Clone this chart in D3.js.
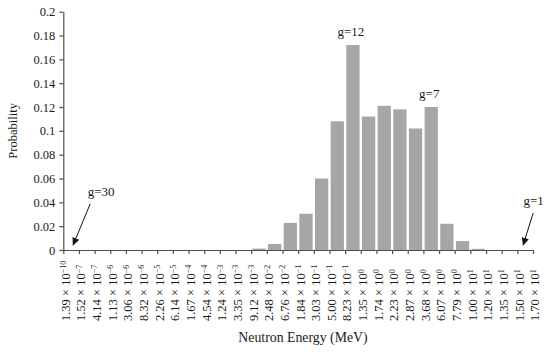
<!DOCTYPE html>
<html>
<head>
<meta charset="utf-8">
<script src="https://cdn.jsdelivr.net/npm/d3@7"></script>
<style>
  body { margin: 0; background: #fff; }
  svg text { font-family: "Liberation Serif", "Times New Roman", serif; fill: #1a1a1a; }
  .axis path, .axis line { stroke: #4d4d4d; stroke-width: 1.2px; }
</style>
</head>
<body>
<svg id="chart"></svg>
<script>
// bin edge labels (31 edges, 30 energy groups), written as mantissa x 10^exponent
const edgeMantissa = ["1.39", "1.52", "4.14", "1.13", "3.06", "8.32", "2.26", "6.14", "1.67", "4.54",
    "1.24", "3.35", "9.12", "2.48", "6.76", "1.84", "3.03", "5.00", "8.23", "1.35",
    "1.74", "2.23", "2.87", "3.68", "6.07", "7.79", "1.00", "1.20", "1.35", "1.50", "1.70"];
const edgeExponent = [-10, -7, -7, -6, -6, -6, -5, -5, -4, -4,
    -3, -3, -3, -2, -2, -1, -1, -1, -1, 0,
    0, 0, 0, 0, 0, 0, 1, 1, 1, 1, 1];

// group number g counts down from 30 (lowest energy) to 1 (highest)
const groups = d3.range(30, 0, -1);
const probability = [0, 0, 0, 0, 0, 0, 0, 0, 0, 0,
    0, 0, 0.0012, 0.005, 0.0228, 0.0304, 0.060, 0.108, 0.172, 0.112,
    0.121, 0.118, 0.102, 0.120, 0.022, 0.0075, 0.001, 0, 0, 0];

const yTicks = [0, 0.02, 0.04, 0.06, 0.08, 0.1, 0.12, 0.14, 0.16, 0.18, 0.2];

// labelled groups: peaks get text above the bar, the two ends get an arrow
const peakLabels = [12, 7];
const arrowLabels = [30, 1];

const width = 550, height = 352;
const margin = { top: 11.7, right: 17, bottom: 102, left: 63.3 };
const innerW = width - margin.left - margin.right;
const innerH = height - margin.top - margin.bottom;

const svg = d3.select("#chart")
    .attr("width", width)
    .attr("height", height);

svg.append("defs").append("marker")
    .attr("id", "arrowhead")
    .attr("viewBox", "0 0 10 10")
    .attr("refX", 9)
    .attr("refY", 5)
    .attr("markerWidth", 8)
    .attr("markerHeight", 8)
    .attr("orient", "auto")
    .append("path")
    .attr("d", "M0,0.5 L10,5 L0,9.5 z")
    .attr("fill", "#111");

const chart = svg.append("g")
    .attr("transform", `translate(${margin.left},${margin.top})`);

// x: edge index -> pixel; bars sit between consecutive edges
const xScale = d3.scaleLinear().domain([0, edgeMantissa.length - 1]).range([0, innerW]);
const yScale = d3.scaleLinear().domain([0, 0.2]).range([innerH, 0]);

const barGap = 2.4;
chart.selectAll(".bar")
    .data(probability)
    .join("rect")
    .attr("class", "bar")
    .attr("x", (d, i) => xScale(i) + barGap / 2)
    .attr("width", (d, i) => xScale(i + 1) - xScale(i) - barGap)
    .attr("y", d => yScale(d))
    .attr("height", d => innerH - yScale(d))
    .attr("fill", "#a6a6a6");

// Y axis
const yAxis = d3.axisLeft(yScale)
    .tickValues(yTicks)
    .tickSize(4)
    .tickSizeOuter(0)
    .tickFormat(d => String(+d.toFixed(2)));

const yAxisG = chart.append("g")
    .attr("class", "axis y-axis")
    .call(yAxis);
yAxisG.selectAll("text")
    .attr("x", -8)
    .attr("font-size", "12.5px")
    .style("font-family", null);

// X axis with rotated labels at every edge
const xAxis = d3.axisBottom(xScale)
    .tickValues(d3.range(edgeMantissa.length))
    .tickSize(4)
    .tickSizeOuter(0)
    .tickFormat("");

const xAxisG = chart.append("g")
    .attr("class", "axis x-axis")
    .attr("transform", `translate(0,${innerH})`)
    .call(xAxis);

xAxisG.selectAll(".tick").each(function(i) {
    const t = d3.select(this).append("text")
        .attr("transform", `translate(1.5,${321 - margin.top - innerH}) rotate(-90)`)
        .attr("text-anchor", "start")
        .attr("dy", "0.35em")
        .attr("font-size", "12.5px")
        .attr("fill", "#1a1a1a");
    t.append("tspan").text(`${edgeMantissa[i]} × 10`);
    t.append("tspan")
        .attr("dy", "-0.45em")
        .attr("font-size", "8px")
        .text(String(edgeExponent[i]).replace("-", "−"));
});

// axis titles
chart.append("text")
    .attr("x", 303 - margin.left)
    .attr("y", 342 - margin.top)
    .attr("text-anchor", "middle")
    .attr("font-size", "13.8px")
    .text("Neutron Energy (MeV)");

chart.append("text")
    .attr("transform", `translate(${16.5 - margin.left},${innerH / 2}) rotate(-90)`)
    .attr("text-anchor", "middle")
    .attr("font-size", "12.5px")
    .text("Probability");

// group annotations
const binCenter = g => {
    const i = groups.indexOf(g);
    return (xScale(i) + xScale(i + 1)) / 2;
};

chart.selectAll(".peak-label")
    .data(peakLabels)
    .join("text")
    .attr("class", "peak-label")
    .attr("x", g => binCenter(g) - 2)
    .attr("y", g => yScale(probability[groups.indexOf(g)]) - 9)
    .attr("text-anchor", "middle")
    .attr("font-size", "13px")
    .text(g => `g=${g}`);

const arrowDx = { 30: 1, 1: -1 };
arrowLabels.forEach(g => {
    const cx = binCenter(g);
    const dir = arrowDx[g];
    const tipX = cx + 2 * dir;
    const tipY = yScale(0) - 5;
    const startX = g === 30 ? cx + 19 : cx + 8;
    const startY = g === 30 ? yScale(0) - 46 : yScale(0) - 37;

    chart.append("line")
        .attr("x1", startX)
        .attr("y1", startY)
        .attr("x2", tipX)
        .attr("y2", tipY)
        .attr("stroke", "#111")
        .attr("stroke-width", 1)
        .attr("marker-end", "url(#arrowhead)");

    chart.append("text")
        .attr("x", g === 30 ? startX + 11 : startX + 0.5)
        .attr("y", startY - 8)
        .attr("text-anchor", "middle")
        .attr("font-size", "13px")
        .text(`g=${g}`);
});
</script>
</body>
</html>
